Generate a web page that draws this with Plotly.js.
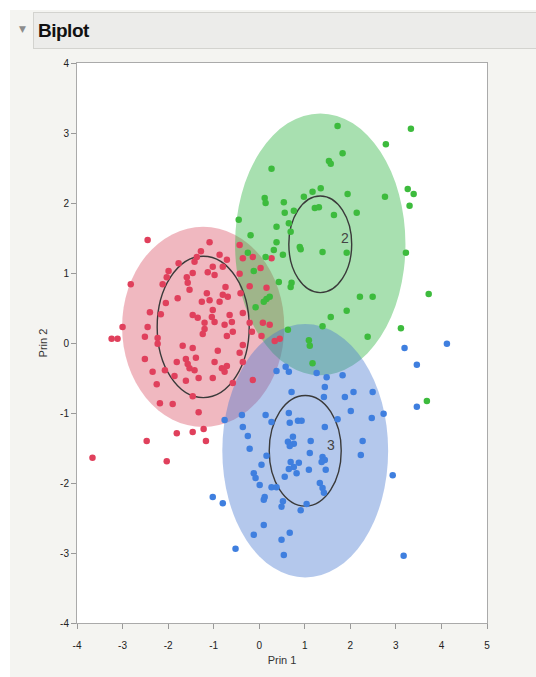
<!DOCTYPE html>
<html>
<head>
<meta charset="utf-8">
<script src="https://cdn.plot.ly/plotly-3.0.1.min.js"></script>
<style>
  html, body { margin:0; padding:0; background:#ffffff; width:536px; height:677px; overflow:hidden; }
  #panel { position:absolute; left:10px; top:10px; width:526px; height:667px; background:#f4f4f1; }
  #chart { position:absolute; left:10px; top:10px; width:526px; height:667px; }
  #hdr { position:absolute; left:33px; top:12px; width:503px; height:37px; background:#ececea;
         border:1px solid #d3d3cf; border-right:none; box-sizing:border-box; }
  #hdrtxt { position:absolute; left:4px; top:7px; font-family:"Liberation Sans", Arial, sans-serif;
            font-weight:bold; font-size:19px; color:#111; letter-spacing:-0.5px; }
  #tri { position:absolute; left:19px; top:24px; font-family:"DejaVu Sans", sans-serif; font-size:9px; color:#8c8c8c; }
</style>
</head>
<body>
<div id="panel"></div>
<div id="chart"></div>
<div id="tri">▼</div>
<div id="hdr"><span id="hdrtxt">Biplot</span></div>
<script>
// ---- data ----
const redX = [-2.45,-2.82,-1.28,-1.37,-1.42,-1.77,-1.99,-2.03,-2.12,-1.59,-1.57,-1.53,-1.46,-1.79,-2.05,-2.40,-2.16,-1.26,-1.46,-1.35,-1.20,-2.45,-3.00,-3.24,-3.11,-2.51,-1.09,-0.87,-0.71,-0.80,-1.02,-0.98,-0.43,-0.36,-0.14,0.03,0.27,-0.43,-0.21,0.16,-0.74,-0.80,-0.69,-0.87,-1.15,-1.09,-0.41,-1.02,-1.04,-0.98,-0.65,-0.60,-0.76,-0.58,-0.36,-1.20,-1.24,-0.21,-0.16,0.08,0.23,0.05,0.34,0.45,-1.13,-2.23,-2.23,-2.51,-2.34,-2.25,-2.07,-1.81,-1.86,-1.61,-1.68,-1.46,-1.61,-1.57,-1.53,-1.39,-1.42,-1.33,-2.18,-1.90,-1.46,-1.33,-1.81,-1.46,-1.22,-1.17,-2.47,-3.66,-2.03,-0.71,-0.36,-0.91,-0.98,-0.82,-0.71,-0.76,-1.02,-0.43,-0.36,-0.58,-0.14];
const redY = [1.47,0.84,1.31,1.23,1.16,1.14,1.03,0.94,0.84,0.94,0.86,0.76,1.00,0.64,0.57,0.44,0.41,0.59,0.40,0.36,0.29,0.23,0.23,0.06,0.06,0.09,1.44,1.26,1.19,1.09,1.09,0.97,1.40,1.21,1.23,1.07,1.21,0.99,0.81,0.79,0.80,0.69,0.66,0.59,0.71,0.61,0.71,0.47,0.37,0.30,0.40,0.30,0.26,0.16,0.43,0.20,0.13,0.29,0.16,0.29,0.26,0.10,0.03,0.06,1.01,0.07,-0.01,-0.23,-0.41,-0.59,-0.39,-0.27,-0.47,-0.54,-0.04,-0.07,-0.23,-0.30,-0.36,-0.21,-0.39,-0.50,-0.86,-0.87,-0.76,-0.99,-1.29,-1.27,-1.23,-1.40,-1.40,-1.64,-1.69,0.10,-0.03,-0.11,-0.27,-0.36,-0.33,-0.41,-0.50,-0.14,-0.27,-0.57,-0.53];

const greenX = [1.72,3.33,2.78,1.83,1.53,1.57,0.27,3.26,3.39,2.76,3.30,1.35,1.17,0.98,1.94,0.12,0.14,0.54,0.56,0.76,1.22,1.31,1.64,2.14,-0.45,0.38,0.65,0.69,-0.19,0.38,0.32,0.89,0.91,1.39,1.92,0.52,3.22,-0.25,0.14,-0.12,0.43,0.71,0.69,0.16,0.23,-0.08,2.21,2.49,3.72,1.92,1.57,0.63,1.39,1.09,1.11,3.11,2.38,1.17,3.68,0.10];
const greenY = [3.10,3.06,2.84,2.71,2.60,2.56,2.49,2.20,2.13,2.09,1.96,2.21,2.16,2.09,2.13,2.07,2.00,2.01,1.86,1.89,1.93,1.94,1.83,1.86,1.76,1.66,1.71,1.59,1.54,1.44,1.33,1.37,1.34,1.30,1.29,1.26,1.29,1.29,1.23,1.03,0.87,0.86,0.80,0.63,0.66,0.51,0.66,0.66,0.70,0.46,0.37,0.19,0.24,0.04,-0.04,0.21,0.09,-0.29,-0.83,0.59];

const blueX = [3.19,4.12,3.46,3.46,2.93,3.17,0.38,0.58,0.65,1.26,1.48,1.83,1.44,0.71,1.88,2.07,2.49,2.01,2.47,2.73,1.72,-0.38,-0.76,0.14,0.27,-0.36,0.65,0.67,0.85,0.93,1.44,-0.25,-0.21,0.63,0.74,0.76,0.67,1.13,2.27,2.23,1.11,0.16,0.05,-0.12,-0.08,1.39,1.44,1.37,1.46,0.69,0.76,0.87,0.65,0.82,0.56,1.09,0.01,0.27,0.38,1.33,1.39,1.42,0.12,0.10,0.52,0.49,1.04,0.91,-1.02,-0.80,0.10,-0.12,0.67,0.49,-0.52,0.54,1.42];
const blueY = [-0.07,-0.01,-0.31,-0.91,-1.89,-3.04,-0.40,-0.34,-0.41,-0.43,-0.49,-0.46,-0.63,-0.70,-0.77,-0.70,-0.70,-0.97,-1.07,-1.01,-1.09,-1.03,-1.10,-1.03,-1.13,-1.20,-1.00,-1.14,-1.11,-1.11,-1.20,-1.33,-1.51,-1.41,-1.34,-1.44,-1.47,-1.40,-1.40,-1.60,-1.57,-1.61,-1.74,-1.86,-1.93,-1.63,-1.67,-1.70,-1.81,-1.70,-1.77,-1.71,-1.80,-1.86,-1.91,-1.81,-2.03,-2.06,-2.06,-2.00,-2.07,-2.14,-2.20,-2.24,-2.26,-2.34,-2.30,-2.39,-2.20,-2.29,-2.60,-2.74,-2.71,-2.81,-2.94,-3.03,-0.77];

// tick values and labels (plain hyphen as in the reference)
const xTickVals = [-4,-3,-2,-1,0,1,2,3,4,5];
const xTickText = ["-4","-3","-2","-1","0","1","2","3","4","5"];
const yTickVals = [-4,-3,-2,-1,0,1,2,3,4];
const yTickText = ["-4","-3","-2","-1","0","1","2","3","4"];

// cluster ellipses: centre, outer radii (density ellipse), inner radius (mean circle), label
const clusterLabels = ["1", "2", "3"];
const centerX = [-1.23, 1.34, 1.01];
const centerY = [0.23, 1.41, -1.54];
const outerRX = [1.78, 1.87, 1.82];
const outerRY = [1.43, 1.87, 1.81];
const innerR  = [1.01, 0.69, 0.79];
const labelX  = [null, 1.89, 1.58];
const labelY  = [null, 1.50, -1.46];

const fillColors = ["rgba(212,52,75,0.35)", "rgba(38,178,58,0.40)", "rgba(67,117,207,0.40)"];
const dotColors  = ["#e0405c", "#3dbb3d", "#3f7fdf"];

const shapes = [];
for (let i = 0; i < 3; i++) {
  shapes.push({type:"circle", xref:"x", yref:"y", layer:"below",
    x0:centerX[i]-outerRX[i], x1:centerX[i]+outerRX[i],
    y0:centerY[i]-outerRY[i], y1:centerY[i]+outerRY[i],
    fillcolor:fillColors[i], line:{width:0}});
}
for (let i = 0; i < 3; i++) {
  shapes.push({type:"circle", xref:"x", yref:"y", layer:"below",
    x0:centerX[i]-innerR[i], x1:centerX[i]+innerR[i],
    y0:centerY[i]-innerR[i], y1:centerY[i]+innerR[i],
    fillcolor:"rgba(0,0,0,0)", line:{color:"#3a3a3a", width:1.4}});
}
const annotations = [];
for (let i = 0; i < 3; i++) {
  if (labelX[i] === null) continue;
  annotations.push({x:labelX[i], y:labelY[i], xref:"x", yref:"y", text:clusterLabels[i],
    showarrow:false, font:{family:"Liberation Sans, Arial, sans-serif", size:14, color:"#444"}});
}

function pts(x, y, c) {
  return {type:"scatter", mode:"markers", x:x, y:y, hoverinfo:"skip",
    marker:{color:c, size:6.5, line:{width:0}}, showlegend:false};
}
const data = [pts(redX, redY, dotColors[0]), pts(greenX, greenY, dotColors[1]), pts(blueX, blueY, dotColors[2])];

const tickFont = {family:"Liberation Sans, Arial, sans-serif", size:10, color:"#222"};
const titleFont = {family:"Liberation Sans, Arial, sans-serif", size:11, color:"#333"};
const layout = {
  width:526, height:667,
  margin:{l:67, r:49, t:53, b:54},
  paper_bgcolor:"rgba(0,0,0,0)", plot_bgcolor:"#ffffff",
  showlegend:false,
  xaxis:{range:[-4,5], tickmode:"array", tickvals:xTickVals, ticktext:xTickText,
    ticks:"outside", ticklen:5, tickcolor:"#999", ticklabelstandoff:8,
    showgrid:false, zeroline:false, showline:true, linecolor:"#aaa", linewidth:1, mirror:true,
    tickfont:tickFont, title:{text:"Prin 1", font:titleFont, standoff:6}},
  yaxis:{range:[-4,4], tickmode:"array", tickvals:yTickVals, ticktext:yTickText,
    ticks:"outside", ticklen:5, tickcolor:"#999",
    showgrid:false, zeroline:false, showline:true, linecolor:"#aaa", linewidth:1, mirror:true,
    tickfont:tickFont, title:{text:"Prin 2", font:titleFont, standoff:10}},
  shapes:shapes, annotations:annotations
};
Plotly.newPlot("chart", data, layout, {staticPlot:true, displayModeBar:false});
</script>
</body>
</html>
